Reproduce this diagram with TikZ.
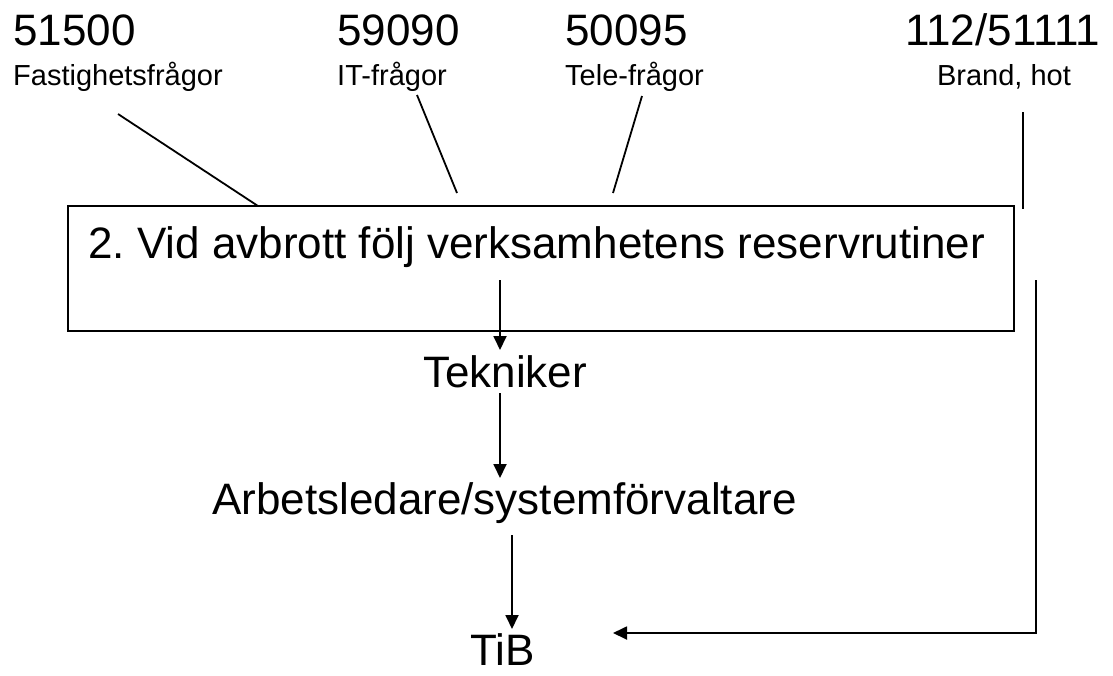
\documentclass[tikz,border=0pt]{standalone}
\usepackage{fontspec}
\setmainfont{Liberation Sans}
\usetikzlibrary{arrows.meta}
\frenchspacing
\begin{document}
\begin{tikzpicture}[x=1pt,y=-1pt,
  big/.style={font=\fontsize{44}{48}\selectfont, inner sep=0pt, anchor=base west},
  small/.style={font=\fontsize{29}{32}\selectfont, inner sep=0pt, anchor=base west},
  conn/.style={line width=1.8pt},
  arr/.style={line width=1.8pt, -{Triangle[length=14pt,width=13pt]}},
  frame/.style={draw, line width=2pt, minimum width=946pt, minimum height=125pt, inner sep=0pt}]
\fill[white] (0,0) rectangle (1113,675);
\useasboundingbox (0,0) rectangle (1113,675);
% top labels
\node[big] (n1) at (13,45) {51500};
\node[small] (l1) at (13,85) {Fastighetsfrågor};
\node[big] (n2) at (337,45) {59090};
\node[small] (l2) at (337,85) {IT-frågor};
\node[big] (n3) at (565,45) {50095};
\node[small] (l3) at (565,85) {Tele-frågor};
\node[big] (n4) at (905,45) {112/51111};
\node[small, anchor=base] (l4) at (1004,85) {Brand, hot};
% box
\node[frame] (box) at (541,268.5) {};
\node[big] (boxtext) at (88,258) {2.\ Vid avbrott följ verksamhetens reservrutiner};
% chain
\node[big] (tek) at (423,387) {Tekniker};
\node[big] (arb) at (212,514) {Arbetsledare/systemförvaltare};
\node[big] (tib) at (470,665) {TiB};
% connector ends
\coordinate (f1) at (118,114); \coordinate (f2) at (258,206);
\coordinate (i1) at (417,95);  \coordinate (i2) at (457,193);
\coordinate (t1) at (642,96);  \coordinate (t2) at (613,193);
\coordinate (b1) at (1023,112); \coordinate (b2) at (1023,209);
\coordinate (s1) at (500,280); \coordinate (s2) at (500,350);
\coordinate (s3) at (500,393); \coordinate (s4) at (500,478);
\coordinate (s5) at (512,535); \coordinate (s6) at (512,629);
\coordinate (r1) at (1036,280); \coordinate (r2) at (1036,633); \coordinate (r3) at (613,633);
% connectors
\draw[conn] (f1) -- (f2);
\draw[conn] (i1) -- (i2);
\draw[conn] (t1) -- (t2);
\draw[conn] (b1) -- (b2);
\draw[arr] (s1) -- (s2);
\draw[arr] (s3) -- (s4);
\draw[arr] (s5) -- (s6);
\draw[arr] (r1) -- (r2) -- (r3);
\end{tikzpicture}
\end{document}
